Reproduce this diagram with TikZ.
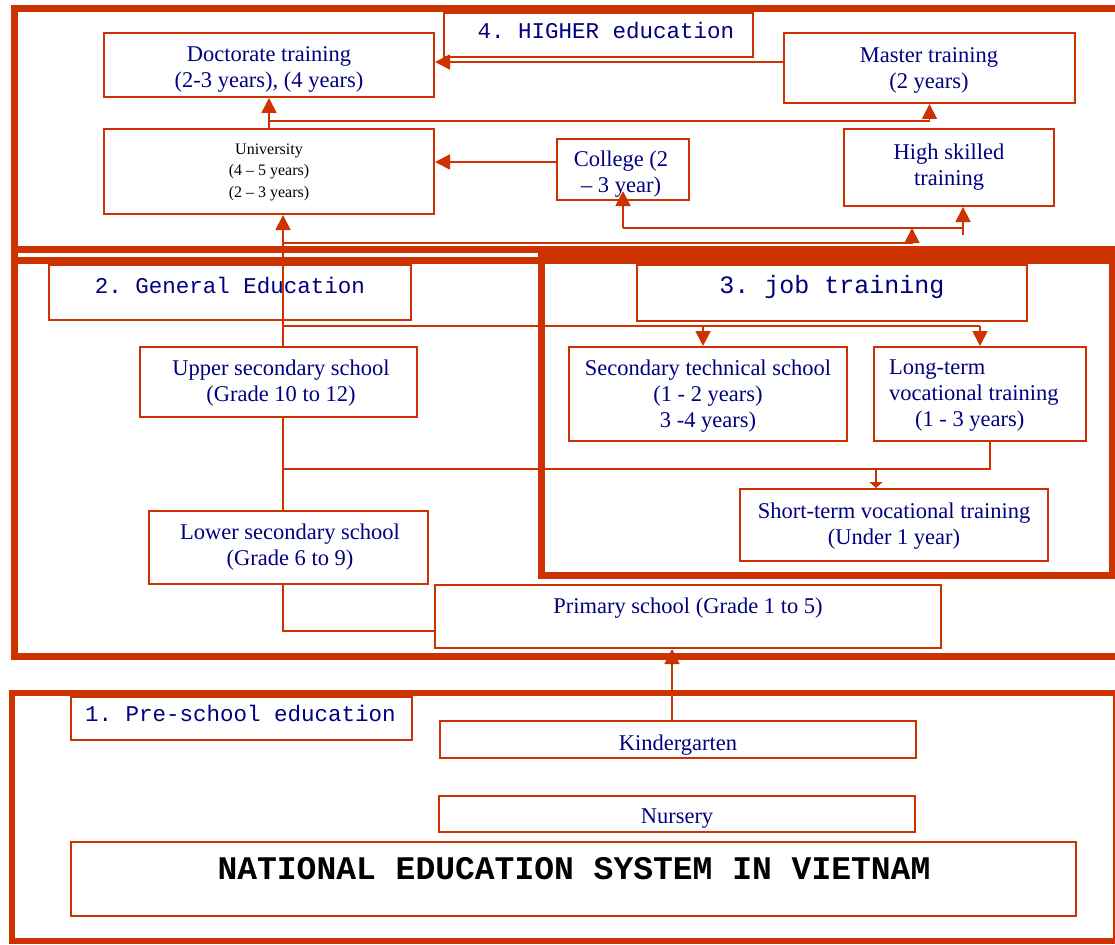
\documentclass[tikz,border=0pt]{standalone}
\usepackage{fontspec}
\setmainfont{Liberation Serif}
\setmonofont{Liberation Mono}
\usetikzlibrary{arrows.meta,fit}
\definecolor{fr}{RGB}{204,51,0}
\definecolor{tb}{RGB}{0,0,128}
\begin{document}
\begin{tikzpicture}[x=1pt,y=-1pt,
  frame/.style={draw=fr,line width=7pt},
  box/.style={draw=fr,line width=2pt,fill=white,inner sep=0pt},
  txt/.style={text=tb,font=\fontsize{22.5}{26}\selectfont,align=center,inner sep=0pt},
  lab/.style={text=tb,font=\ttfamily\fontsize{22.5}{26}\selectfont,inner sep=0pt},
  conn/.style={draw=fr,line width=1.8pt},
  arr/.style={conn,-{Triangle[length=15pt,width=15pt]}},
  arrs/.style={conn,-{Triangle[length=6pt,width=13pt]}},
]
\useasboundingbox (0,0) rectangle (1115,944);
\clip (0,0) rectangle (1115,944);
\fill[white] (0,0) rectangle (1115,944);

% frames
\draw[frame] (14,9) rectangle (1130,249);
\draw[frame] (14,260) rectangle (1130,656);
\draw[frame] (14,245) -- (14,265);
\draw[frame] (541,256) rectangle (1112,575.5);
\draw[frame] (1090,249) -- (1115,249);
\draw[frame,line width=6.5pt] (12,693) rectangle (1116.5,941);

% 4. higher education
\node[box,fit={(444,13)(753,57)}] (l4) {};
\node[lab] (t4) at (606,30) {4. HIGHER education};
\node[box,fit={(104,33)(434,97)}] (doc) {};
\node[txt] (tdoc) at (269,69) {Doctorate training\\(2-3 years), (4 years)};
\node[box,fit={(784,33)(1075,103)}] (mas) {};
\node[txt] (tmas) at (929,70) {Master training\\(2 years)};
\node[box,fit={(104,129)(434,214)}] (uni) {};
\node[txt,text=black,font=\fontsize{16}{21.5}\selectfont] (tuni) at (269,172) {University\\(4 – 5 years)\\(2 – 3 years)};
\node[box,fit={(557,139)(689,200)}] (col) {};
\node[txt] (tcol) at (621,174) {College (2\\– 3 year)};
\node[box,fit={(844,129)(1054,206)}] (hsk) {};
\node[txt] (thsk) at (949,167) {High skilled\\training};

% 2. general education
\node[box,fit={(49,265)(411,320)}] (l2) {};
\node[lab] (t2) at (230,285) {2. General Education};
\node[box,fit={(140,347)(417,417)}] (ups) {};
\node[txt] (tups) at (281,383) {Upper secondary school\\(Grade 10 to 12)};
\node[box,fit={(149,511)(428,584)}] (lows) {};
\node[txt] (tlows) at (290,547) {Lower secondary school\\(Grade 6 to 9)};
\node[box,fit={(435,585)(941,648)}] (prim) {};
\node[txt] (tprim) at (688,608) {Primary school (Grade 1 to 5)};

% 3. job training
\node[box,fit={(637,265)(1027,321)}] (l3) {};
\node[lab,font=\ttfamily\fontsize{25}{28}\selectfont] (t3) at (832,287) {3. job training};
\node[box,fit={(569,347)(847,441)}] (sts) {};
\node[txt] (tsts) at (708,396) {Secondary technical school\\(1 - 2 years)\\3 -4 years)};
\node[box,fit={(874,347)(1086,441)}] (ltv) {};
\node[txt,align=left,anchor=west] (tltv) at (889,396) {Long-term\\vocational training\\\hspace*{1.15em}(1 - 3 years)};
\node[box,fit={(740,489)(1048,561)}] (stv) {};
\node[txt] (tstv) at (894,526) {Short-term vocational training\\(Under 1 year)};

% 1. pre-school
\node[box,fit={(71,697)(412,740)}] (l1) {};
\node[lab,anchor=west] (t1) at (85,713) {1. Pre-school education};
\node[box,fit={(440,721)(916,758)}] (kg) {};
\node[txt] (tkg) at (678,745) {Kindergarten};
\node[box,fit={(439,796)(915,832)}] (nur) {};
\node[txt] (tnur) at (677,819) {Nursery};
\node[box,fit={(71,842)(1076,916)}] (title) {};
\node[font=\ttfamily\bfseries\fontsize{33}{38}\selectfont,inner sep=0pt] (ttitle) at (574,869) {NATIONAL EDUCATION SYSTEM IN VIETNAM};

% helper coordinates
\coordinate (c63) at (0,62);
\coordinate (c121) at (0,121);
\coordinate (c162) at (0,162);
\coordinate (c243) at (0,243);
\coordinate (c326) at (0,326);
\coordinate (c631) at (0,631);
\coordinate (v) at (283,0);
\coordinate (j1) at (912,228);
\coordinate (h1) at (963,235);
\coordinate (k1) at (703,326);
\coordinate (k2) at (980,326);
\coordinate (m1) at (990,469);
\coordinate (m2) at (876,469);
\coordinate (n1) at (672,0);

% connectors, higher education
\draw[conn] (l4.south west) -- (l4.south west |- c63);
\draw[arr] (mas.west |- c63) -- (doc.east |- c63);
\draw[arr] (uni.north) -- (doc.south);
\draw[arr] (uni.north |- c121) -| (mas.south);
\draw[arr] (col.west |- c162) -- (uni.east |- c162);
\draw[arr] (v |- ups.north) -- (v |- uni.south);
\draw[arr] (v |- c243) -| (j1);
\draw[conn] (h1 |- j1) -- (col.south |- j1);
\draw[arr] (col.south |- j1) -- ([yshift=10pt]col.south);
\draw[arr] (h1) -- (h1 |- hsk.south);

% connectors, general education and job training
\draw[conn] (v |- c326) -- (k2);
\draw[arr] (k1) -- (k1 |- sts.north);
\draw[arr] (k2) -- (k2 |- ltv.north);
\draw[conn] (v |- lows.north) -- (v |- ups.south);
\draw[conn] (m1 |- ltv.south) -- (m1) -- (v |- m1);
\draw[arrs] (m2) -- (m2 |- stv.north);
\draw[conn] (prim.west |- c631) -| (v |- lows.south);

% pre-school to primary
\draw[arr] (n1 |- kg.north) -- (n1 |- prim.south);
\end{tikzpicture}
\end{document}
